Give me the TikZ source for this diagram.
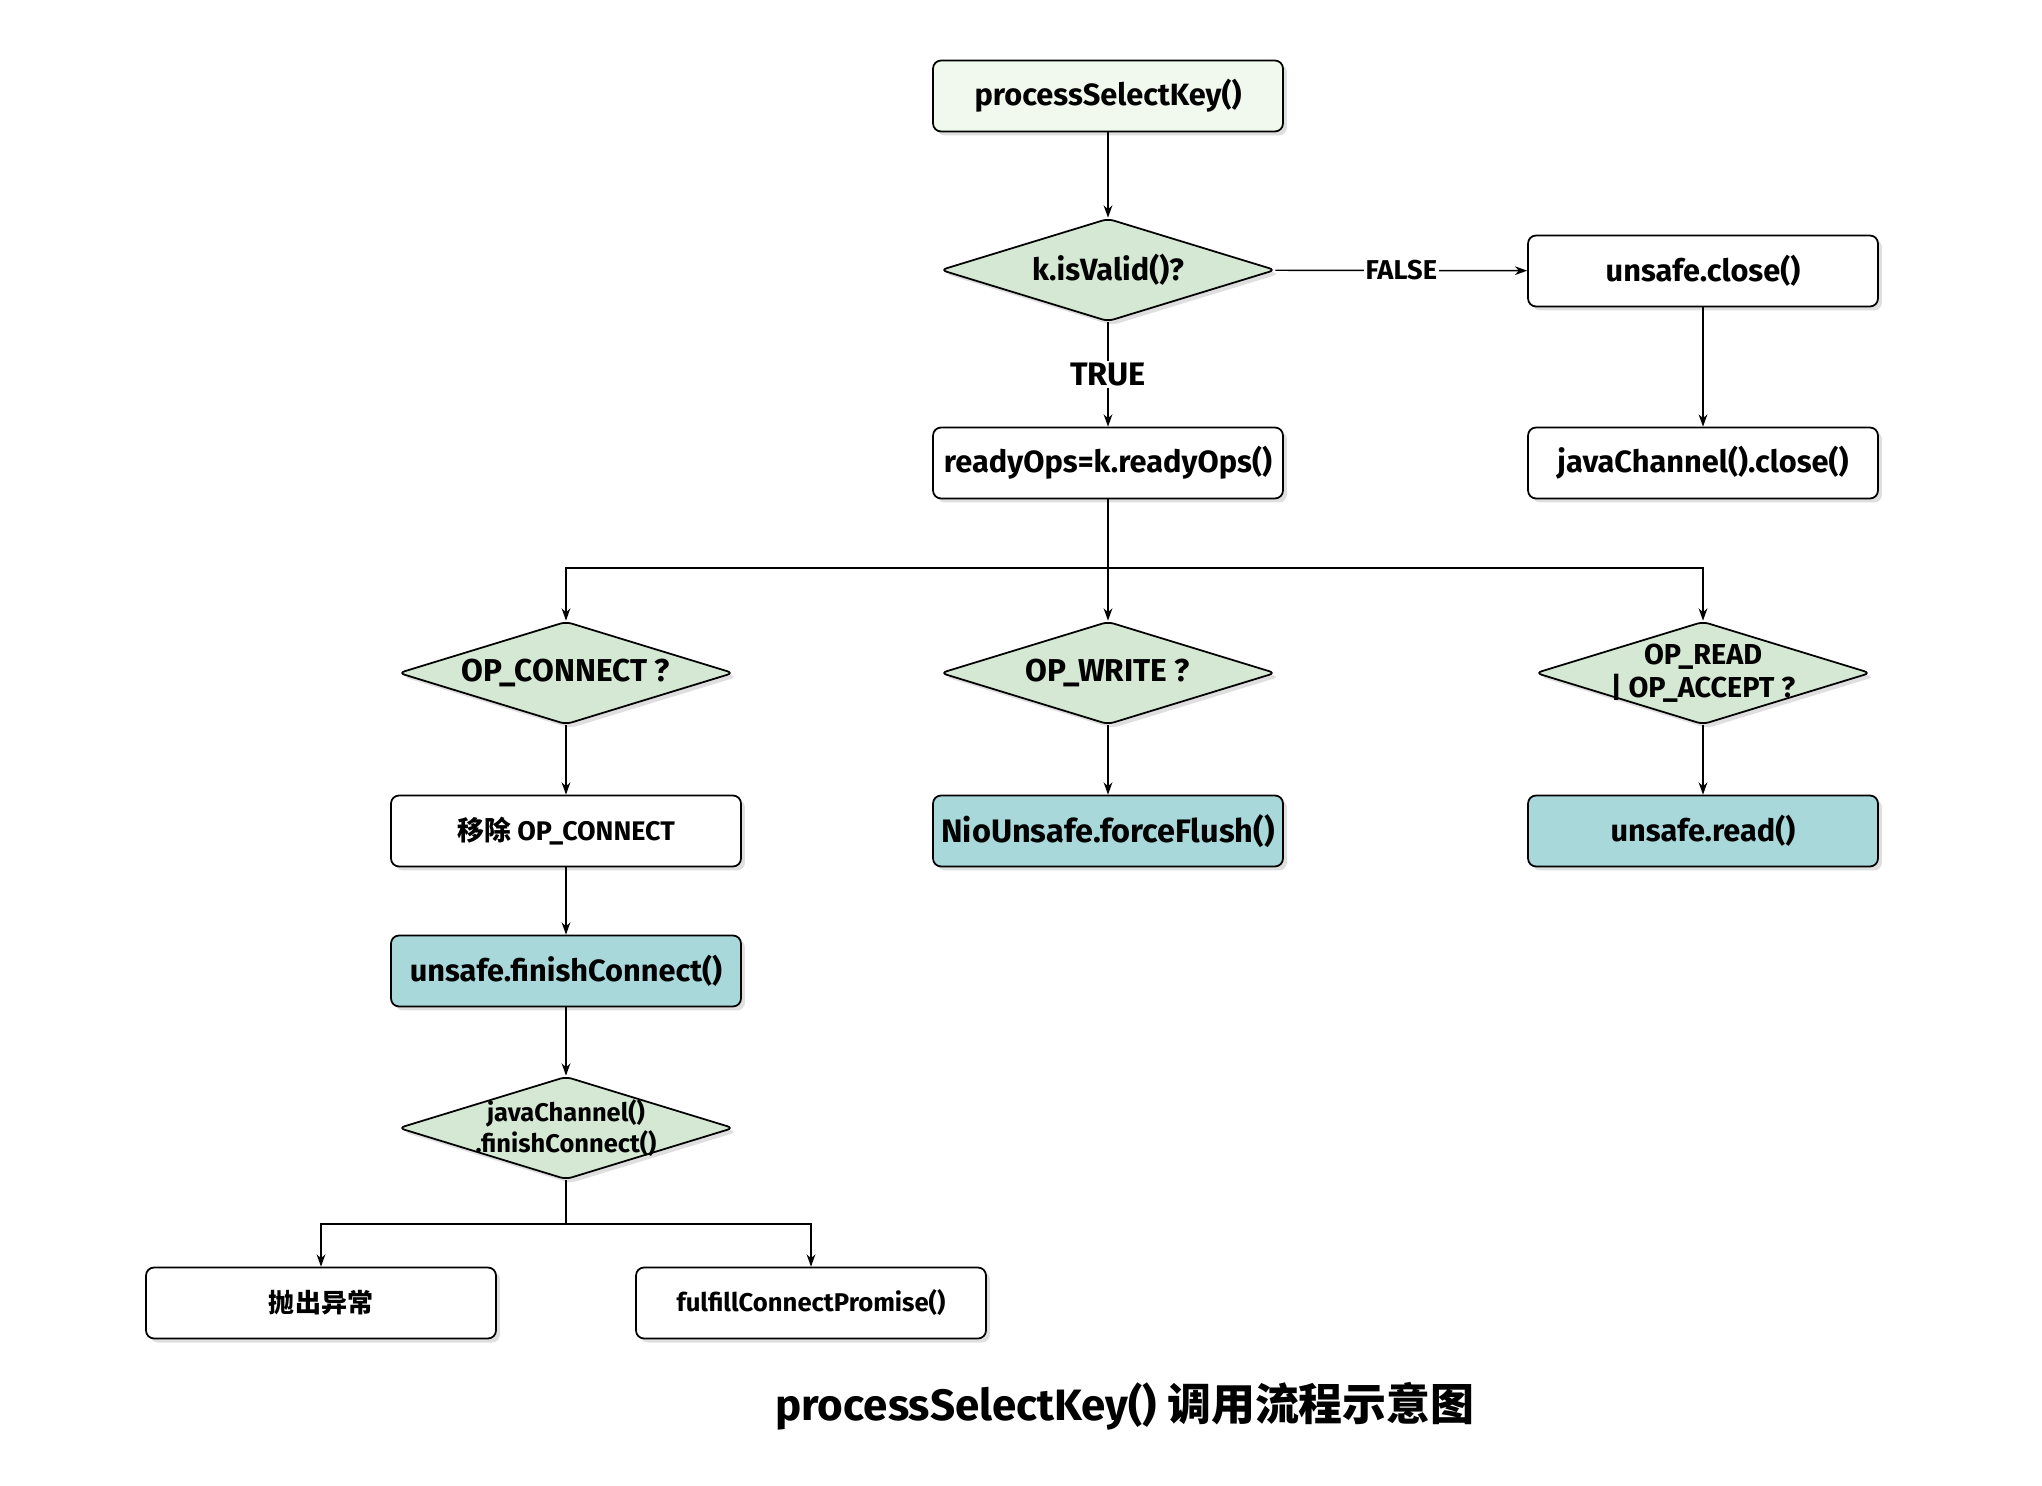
\documentclass[tikz,border=0pt]{standalone}
\usepackage{fontspec}
\setmainfont{Fira Sans}
\newfontfamily\cjk{Noto Sans CJK SC}
\usetikzlibrary{shapes.geometric,arrows.meta,shadows}

\definecolor{startfill}{RGB}{241,248,238}
\definecolor{askfill}{RGB}{213,232,212}
\definecolor{callfill}{RGB}{168,216,218}

\begin{document}
\begin{tikzpicture}[x=0.02cm,y=-0.02cm,
  box/.style={draw, line width=1pt, rounded corners=0.16cm, fill=white,
    minimum width=7cm, minimum height=1.42cm,
    drop shadow={shadow xshift=0.08cm, shadow yshift=-0.08cm, fill=black!25},
    font=\bfseries\fontsize{17.5}{20}\selectfont},
  ask/.style={diamond, draw, line width=1pt, rounded corners=0.12cm, fill=askfill,
    aspect=3.25, inner sep=-0.25cm, minimum width=6.7cm, minimum height=2.06cm,
    align=center,
    drop shadow={shadow xshift=0.08cm, shadow yshift=-0.08cm, fill=black!25},
    font=\bfseries\fontsize{18}{21}\selectfont},
  sz/.style={font=\bfseries\fontsize{#1}{#1}\selectfont},
  wire/.style={line width=0.8pt},
  link/.style={wire, -{Stealth[length=7pt,width=5pt]}},
  tag/.style={fill=white, inner sep=1pt, sz=#1}]

\useasboundingbox (0,0) rectangle (2042,1486);

% draw nodes
\node[box, fill=startfill] (psk) at (1108,96) {processSelectKey()};
\node[ask, sz=17.5] (valid) at (1108,270) {k.isValid()?};
\node[box] (close) at (1703,271) {unsafe.close()};
\node[box] (jclose) at (1703,463) {javaChannel().close()};
\node[box] (ready) at (1108,463) {readyOps=k.readyOps()};

\node[ask] (conn) at (566,673) {OP\_CONNECT ?};
\node[ask] (write) at (1108,673) {OP\_WRITE ?};
\node[ask, font=\bfseries\fontsize{16.4}{18.8}\selectfont] (read) at (1703,673) {OP\_READ\\| OP\_ACCEPT ?};

\node[box, sz=15.3] (remove) at (566,831) {{\cjk 移除} OP\_CONNECT};
\node[box, fill=callfill, sz=18.5] (flush) at (1108,831) {NioUnsafe.forceFlush()};
\node[box, fill=callfill] (rd) at (1703,831) {unsafe.read()};
\node[box, fill=callfill] (finish) at (566,971) {unsafe.finishConnect()};
\node[ask, font=\bfseries\fontsize{14.5}{17.5}\selectfont] (jfinish) at (566,1128) {javaChannel()\\.finishConnect()};

\node[box, sz=14.8] (throw) at (321,1303) {\cjk 抛出异常};
\node[box, sz=14.6] (promise) at (811,1303) {fulfillConnectPromise()};

\node[sz=25] (title) at (1125,1406) {processSelectKey() {\cjk 调用流程示意图}};

% draw links
\coordinate (fork) at (1108,568);
\coordinate (fork2) at (566,1224);

\draw[link] (psk) -- (valid);
\draw[link] (valid) -- node[tag=15.5] {FALSE} (close);
\draw[link] (valid) -- node[tag=18.5] {TRUE} (ready);
\draw[link] (close) -- (jclose);

\draw[wire] (ready) -- (fork);
\draw[link] (fork) -| (conn);
\draw[link] (fork) -- (write);
\draw[link] (fork) -| (read);

\draw[link] (conn) -- (remove);
\draw[link] (write) -- (flush);
\draw[link] (read) -- (rd);
\draw[link] (remove) -- (finish);
\draw[link] (finish) -- (jfinish);

\draw[wire] (jfinish) -- (fork2);
\draw[link] (fork2) -| (throw);
\draw[link] (fork2) -| (promise);

\end{tikzpicture}
\end{document}
